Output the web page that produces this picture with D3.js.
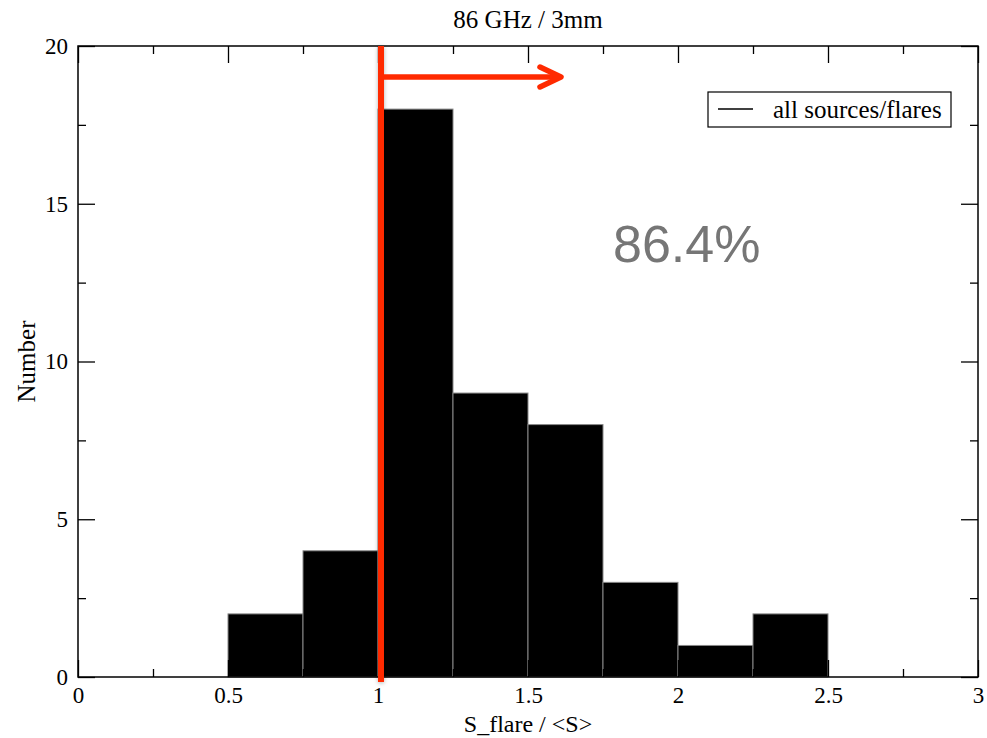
<!DOCTYPE html>
<html>
<head>
<meta charset="utf-8">
<script src="https://cdn.jsdelivr.net/npm/d3@7"></script>
<style>
  body { margin: 0; background: #fff; }
  svg { display: block; }
  text { font-family: "Liberation Serif", "Times New Roman", serif; }
</style>
</head>
<body>
<svg id="chart" width="987" height="738"></svg>
<script>
// Histogram of flare amplitude ratio at 86 GHz
const binStarts = [0.5, 0.75, 1.0, 1.25, 1.5, 1.75, 2.0, 2.25];
const binWidth = 0.25;
const counts = [2, 4, 18, 9, 8, 3, 1, 2];
const xTicks = [0, 0.5, 1, 1.5, 2, 2.5, 3];
const yTicks = [0, 5, 10, 15, 20];
const threshold = 1.0;
const arrowEnd = 1.61;
const shareAbove = "86.4%";

const svg = d3.select("#chart");
const margin = { left: 78, top: 46, right: 9, bottom: 61 };
const W = 987, H = 738;
const x = d3.scaleLinear().domain([0, 3]).range([margin.left, W - margin.right]);
const y = d3.scaleLinear().domain([0, 20]).range([H - margin.bottom, margin.top]);

// bars
svg.append("g").selectAll("rect").data(counts).join("rect")
  .attr("x", (d, i) => x(binStarts[i]))
  .attr("width", x(binWidth) - x(0))
  .attr("y", d => y(d))
  .attr("height", d => y(0) - y(d))
  .attr("fill", "#000")
  .attr("stroke", "#888")
  .attr("stroke-width", 1);

// frame
svg.append("rect")
  .attr("x", x(0)).attr("y", y(20))
  .attr("width", x(3) - x(0)).attr("height", y(0) - y(20))
  .attr("fill", "none").attr("stroke", "#000").attr("stroke-width", 1.5);

// axes with inward ticks on all sides
const fmt = d => d3.format("")(d);
const xMinor = d3.range(0.25, 3, 0.5);
const yMinor = d3.range(2.5, 20, 5);

svg.append("g").attr("transform", `translate(0,${y(0)})`)
  .call(d3.axisBottom(x).tickValues(xTicks).tickFormat(fmt).tickSizeInner(-17).tickSizeOuter(0).tickPadding(10));
svg.append("g").attr("transform", `translate(0,${y(0)})`)
  .call(d3.axisBottom(x).tickValues(xMinor).tickFormat("").tickSizeInner(-8).tickSizeOuter(0));
svg.append("g").attr("transform", `translate(0,${y(20)})`)
  .call(d3.axisTop(x).tickValues(xTicks).tickFormat("").tickSizeInner(-17).tickSizeOuter(0));
svg.append("g").attr("transform", `translate(0,${y(20)})`)
  .call(d3.axisTop(x).tickValues(xMinor).tickFormat("").tickSizeInner(-8).tickSizeOuter(0));

svg.append("g").attr("transform", `translate(${x(0)},0)`)
  .call(d3.axisLeft(y).tickValues(yTicks).tickFormat(fmt).tickSizeInner(-17).tickSizeOuter(0).tickPadding(10));
svg.append("g").attr("transform", `translate(${x(0)},0)`)
  .call(d3.axisLeft(y).tickValues(yMinor).tickFormat("").tickSizeInner(-8).tickSizeOuter(0));
svg.append("g").attr("transform", `translate(${x(3)},0)`)
  .call(d3.axisRight(y).tickValues(yTicks).tickFormat("").tickSizeInner(-17).tickSizeOuter(0));
svg.append("g").attr("transform", `translate(${x(3)},0)`)
  .call(d3.axisRight(y).tickValues(yMinor).tickFormat("").tickSizeInner(-8).tickSizeOuter(0));

svg.selectAll(".domain").remove();
svg.selectAll(".tick line").attr("stroke", "#000").attr("stroke-width", 1.3);
svg.selectAll(".tick text")
  .style("font-family", '"Liberation Serif", "Times New Roman", serif')
  .style("font-size", "23px").style("fill", "#000");

// threshold line and arrow
const defs = svg.append("defs");
defs.append("filter").attr("id", "shadow")
  .attr("filterUnits", "userSpaceOnUse")
  .attr("x", 0).attr("y", 0).attr("width", W).attr("height", H)
  .append("feDropShadow").attr("dx", 0).attr("dy", 1).attr("stdDeviation", 2)
  .attr("flood-color", "#000").attr("flood-opacity", 0.3);

const red = "#ff2a00";
const lineX = x(threshold) + 3;
svg.append("rect")
  .attr("x", lineX - 3).attr("width", 6)
  .attr("y", y(20)).attr("height", y(0) + 5 - y(20))
  .attr("fill", red).attr("filter", "url(#shadow)");

const arrowY = y(20) + 31;
svg.append("line")
  .attr("x1", lineX).attr("x2", x(arrowEnd))
  .attr("y1", arrowY).attr("y2", arrowY)
  .attr("stroke", red).attr("stroke-width", 5.5);
svg.append("path")
  .attr("d", `M${x(arrowEnd) - 21},${arrowY - 10} L${x(arrowEnd)},${arrowY} L${x(arrowEnd) - 21},${arrowY + 10}`)
  .attr("fill", "none").attr("stroke", red).attr("stroke-width", 5.5)
  .attr("stroke-linecap", "round").attr("stroke-linejoin", "round");

// percentage annotation
svg.append("text")
  .attr("x", 613).attr("y", 262)
  .attr("text-anchor", "start")
  .style("font-family", '"Liberation Sans", Arial, sans-serif')
  .style("font-size", "52px").style("fill", "#767676")
  .text(shareAbove);

// legend
const lg = svg.append("g").attr("transform", "translate(708,92)");
lg.append("rect").attr("width", 243).attr("height", 35)
  .attr("fill", "#fff").attr("stroke", "#000").attr("stroke-width", 1.2);
lg.append("line").attr("x1", 10).attr("x2", 45).attr("y1", 17).attr("y2", 17)
  .attr("stroke", "#000").attr("stroke-width", 1.3);
lg.append("text").attr("x", 65).attr("y", 26)
  .style("font-size", "25px").style("fill", "#000").text("all sources/flares");

// titles
svg.append("text").attr("x", (x(0) + x(3)) / 2).attr("y", 28)
  .attr("text-anchor", "middle").style("font-size", "25px").style("fill", "#000").text("86 GHz / 3mm");
svg.append("text").attr("x", (x(0) + x(3)) / 2).attr("y", 732)
  .attr("text-anchor", "middle").style("font-size", "24px").style("fill", "#000").text("S_flare / <S>");
svg.append("text")
  .attr("transform", `translate(35,${(y(0) + y(20)) / 2}) rotate(-90)`)
  .attr("text-anchor", "middle").style("font-size", "25px").style("fill", "#000").text("Number");
</script>
</body>
</html>
